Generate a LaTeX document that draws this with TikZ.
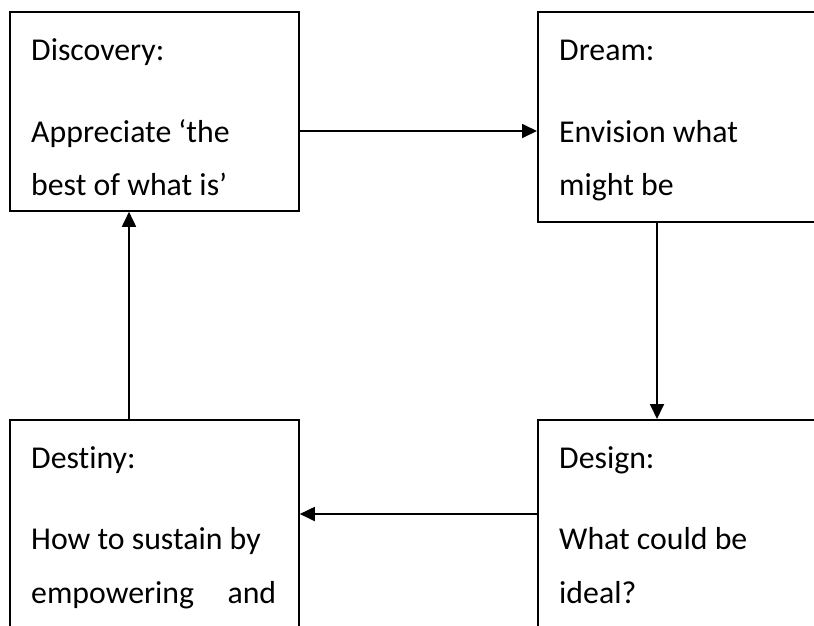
\documentclass[tikz,border=0pt]{standalone}
\usepackage{fontspec}
\setmainfont{Carlito}[Ligatures=NoCommon]
\usetikzlibrary{arrows.meta,calc}
\begin{document}
\begin{tikzpicture}[x=1pt,y=-1pt,
  stagebox/.style={draw=black,line width=1.8pt,rectangle,inner sep=0pt,anchor=north west},
  stagetext/.style={anchor=base west,inner sep=0pt,font=\fontsize{31.8}{36}\selectfont},
  flow/.style={draw=black,line width=1.8pt,-{Triangle[length=15pt,width=14pt]}}]
  \clip (0,0) rectangle (814,625);
  \fill[white] (0,0) rectangle (814,625);

  % the four stages of the cycle
  \node[stagebox,minimum width=289pt,minimum height=199pt] (disc) at (9,11) {};
  \node[stagebox,minimum width=300pt,minimum height=210pt] (dream) at (537,11) {};
  \node[stagebox,minimum width=289pt,minimum height=230pt] (dest) at (9,419) {};
  \node[stagebox,minimum width=300pt,minimum height=230pt] (design) at (537,419) {};

  % stage texts
  \node[stagetext] (disc1) at (31,60) {Discovery:};
  \node[stagetext] (disc2) at (31,142) {Appreciate ‘the};
  \node[stagetext] (disc3) at (31,195) {best of what is’};

  \node[stagetext] (dream1) at (559,60) {Dream:};
  \node[stagetext] (dream2) at (559,142) {Envision what};
  \node[stagetext] (dream3) at (559,195) {might be};

  \node[stagetext] (dest1) at (31,468) {Destiny:};
  \node[stagetext] (dest2) at (31,549) {How to sustain by};
  \node[stagetext,text width=245pt] (dest3) at (31,603) {empowering\hfill and};

  \node[stagetext] (design1) at (559,468) {Design:};
  \node[stagetext] (design2) at (559,549) {What could be};
  \node[stagetext] (design3) at (559,603) {ideal?};

  % connectors
  \draw[flow] ($(disc.north east)+(0,120)$) -- ($(dream.north west)+(0,120)$);
  \draw[flow] ($(dream.south west)+(120,0)$) -- ($(design.north west)+(120,0)$);
  \draw[flow] ($(design.north west)+(0,95)$) -- ($(dest.north east)+(0,95)$);
  \draw[flow] ($(dest.north west)+(120,0)$) -- ($(disc.south west)+(120,0)$);
\end{tikzpicture}
\end{document}
